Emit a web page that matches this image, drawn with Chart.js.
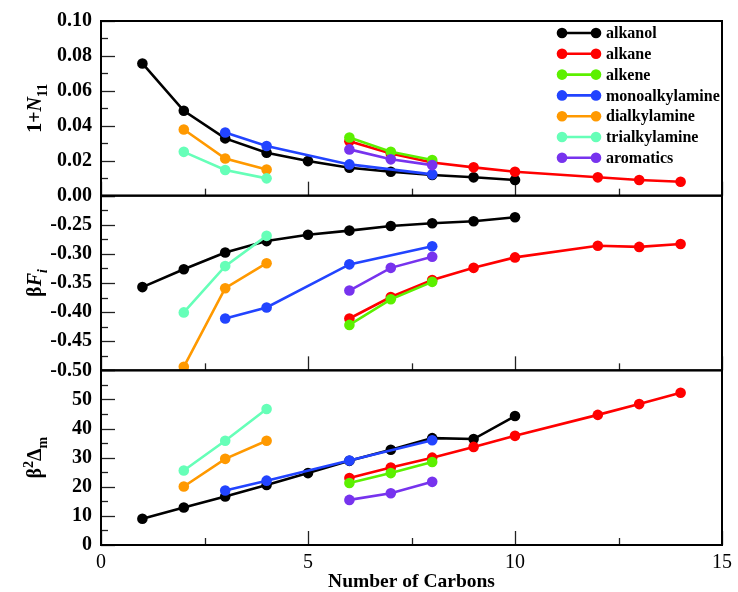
<!DOCTYPE html>
<html>
<head>
<meta charset="utf-8">
<script src="https://cdn.jsdelivr.net/npm/chart.js@4.4.1/dist/chart.umd.min.js"></script>
<style>
  html, body { margin: 0; padding: 0; background: #fff; }
  #wrap { width: 738px; height: 592px; }
</style>
</head>
<body>
<div id="wrap"><canvas id="chart" width="738" height="592"></canvas></div>
<script>
// Données (nombre de carbones -> 1+N11, βF_i, β²Δm)
const seriesNames = ['alkanol', 'alkane', 'alkene', 'monoalkylamine', 'dialkylamine', 'trialkylamine', 'aromatics'];

const alkanolCarbons = [1, 2, 3, 4, 5, 6, 7, 8, 9, 10];
const alkanolN11 = [0.0757, 0.0486, 0.0328, 0.0246, 0.0198, 0.0160, 0.0137, 0.0118, 0.0105, 0.0090];
const alkanolBetaF = [-0.357, -0.3265, -0.2975, -0.278, -0.267, -0.260, -0.252, -0.2475, -0.244, -0.237];
const alkanolDelta = [9.0, 12.9, 16.7, 20.6, 24.7, 28.9, 32.7, 36.7, 36.4, 44.3];

const alkaneCarbons = [6, 7, 8, 9, 10, 12, 13, 14];
const alkaneN11 = [0.0312, 0.0242, 0.0190, 0.0162, 0.0137, 0.0105, 0.0090, 0.0080];
const alkaneBetaF = [-0.411, -0.374, -0.345, -0.324, -0.306, -0.286, -0.288, -0.283];
const alkaneDelta = [23.0, 26.6, 30.0, 33.7, 37.5, 44.7, 48.4, 52.3];

const alkeneCarbons = [6, 7, 8];
const alkeneN11 = [0.0333, 0.0251, 0.0204];
const alkeneBetaF = [-0.422, -0.378, -0.348];
const alkeneDelta = [21.3, 24.7, 28.5];

const monoCarbons = [3, 4, 6, 8];
const monoN11 = [0.0362, 0.0284, 0.0179, 0.0122];
const monoBetaF = [-0.411, -0.392, -0.318, -0.287];
const monoDelta = [18.7, 22.1, 29.0, 36.0];

const diCarbons = [2, 3, 4];
const diN11 = [0.0379, 0.0213, 0.0150];
const diBetaF = [-0.494, -0.359, -0.316];
const diDelta = [20.1, 29.6, 35.8];

const triCarbons = [2, 3, 4];
const triN11 = [0.0251, 0.0147, 0.0099];
const triBetaF = [-0.4005, -0.321, -0.269];
const triDelta = [25.6, 35.8, 46.7];

const aroCarbons = [6, 7, 8];
const aroN11 = [0.0265, 0.0208, 0.0175];
const aroBetaF = [-0.363, -0.324, -0.305];
const aroDelta = [15.5, 17.8, 21.7];

const seriesColors = ['#000000', '#ff0000', '#5cf000', '#2244ff', '#ff9900', '#66ffb8', '#7733ee'];

const allCarbons = [alkanolCarbons, alkaneCarbons, alkeneCarbons, monoCarbons, diCarbons, triCarbons, aroCarbons];
const allN11 = [alkanolN11, alkaneN11, alkeneN11, monoN11, diN11, triN11, aroN11];
const allBetaF = [alkanolBetaF, alkaneBetaF, alkeneBetaF, monoBetaF, diBetaF, triBetaF, aroBetaF];
const allDelta = [alkanolDelta, alkaneDelta, alkeneDelta, monoDelta, diDelta, triDelta, aroDelta];

const SERIF = '"Liberation Serif", "DejaVu Serif", serif';

// Panneaux (du haut vers le bas)
const panels = [
    { id: 'yN', values: allN11, min: 0, max: 0.10, major: 0.02, minor: 0.01, hide: [] },
    { id: 'yF', values: allBetaF, min: -0.5, max: -0.2, major: 0.05, minor: 0.025, hide: [-0.2] },
    { id: 'yD', values: allDelta, min: 0, max: 60, major: 10, minor: 5, hide: [60] }
];

// Construit les datasets pour chaque panneau
const datasets = [];
panels.forEach((p, pi) => {
    seriesNames.forEach((name, i) => {
        datasets.push({
            label: name,
            data: allCarbons[i].map((c, k) => ({ x: c, y: p.values[i][k] })),
            yAxisID: p.id,
            borderColor: seriesColors[i],
            backgroundColor: seriesColors[i],
            pointBackgroundColor: seriesColors[i],
            pointBorderWidth: 0,
            pointRadius: 5.3,
            borderWidth: 2.6,
            tension: 0,
            order: 20 - i
        });
    });
});

function yScale(p, decimals) {
    return {
        type: 'linear',
        position: 'left',
        stack: 'panels',
        stackWeight: 1,
        min: p.min,
        max: p.max,
        grid: { display: false, drawTicks: false },
        border: { display: false },
        ticks: {
            stepSize: p.major,
            autoSkip: false,
            padding: 9,
            color: '#000',
            font: { family: SERIF, size: 20, weight: 'bold' },
            callback: v => p.hide.some(h => Math.abs(h - v) < 1e-9) ? '' : v.toFixed(decimals)
        },
        afterFit: s => { s.width = 101; }
    };
}

// Cadres, graduations internes, légende et titres des axes
const decorations = {
    id: 'decorations',
    beforeDatasetsDraw(chart) {
        const ctx = chart.ctx, area = chart.chartArea, xs = chart.scales.x;
        ctx.save();
        ctx.strokeStyle = '#222';
        ctx.lineWidth = 1.3;
        panels.forEach(p => {
            const ys = chart.scales[p.id];
            const n = Math.round((p.max - p.min) / p.minor);
            for (let k = 0; k <= n; k++) {
                const v = p.min + k * p.minor;
                const yy = Math.round(ys.getPixelForValue(v)) + 0.5;
                const len = (k % 2 === 0) ? 14 : 7;
                ctx.beginPath();
                ctx.moveTo(area.left, yy);
                ctx.lineTo(area.left + len, yy);
                ctx.stroke();
            }
            for (let k = 0; k <= 6; k++) {
                const xx = Math.round(xs.getPixelForValue(k * 2.5)) + 0.5;
                const len = (k % 2 === 0) ? 14 : 7;
                ctx.beginPath();
                ctx.moveTo(xx, ys.bottom);
                ctx.lineTo(xx, ys.bottom - len);
                ctx.stroke();
            }
        });
        ctx.restore();
    },
    afterDatasetsDraw(chart) {
        const ctx = chart.ctx, area = chart.chartArea;
        ctx.save();
        ctx.strokeStyle = '#000';
        ctx.lineWidth = 2;
        panels.forEach(p => {
            const ys = chart.scales[p.id];
            ctx.strokeRect(area.left, ys.top, area.right - area.left, ys.bottom - ys.top);
        });

        // Légende
        ctx.textBaseline = 'middle';
        ctx.textAlign = 'left';
        ctx.font = 'bold 16px ' + SERIF;
        seriesNames.forEach((name, i) => {
            const y = 33 + i * 20.8;
            ctx.strokeStyle = seriesColors[i];
            ctx.fillStyle = seriesColors[i];
            ctx.lineWidth = 2.6;
            ctx.beginPath();
            ctx.moveTo(562, y);
            ctx.lineTo(596, y);
            ctx.stroke();
            [562, 596].forEach(x => {
                ctx.beginPath();
                ctx.arc(x, y, 5.3, 0, Math.PI * 2);
                ctx.fill();
            });
            ctx.fillStyle = '#000';
            ctx.fillText(name, 606, y + 1);
        });

        // Titres des axes y avec indices / exposants
        const big = 'bold 20px ' + SERIF;
        const bigIt = 'italic bold 20px ' + SERIF;
        const small = 'bold 14px ' + SERIF;
        const smallIt = 'italic bold 14px ' + SERIF;
        const titles = [
            [['1+', big, 0], ['N', bigIt, 0], ['11', small, 6]],
            [['β', big, 0], ['F', bigIt, 0], ['i', smallIt, 6]],
            [['β', big, 0], ['2', small, -8], ['Δ', big, 0], ['m', small, 6]]
        ];
        panels.forEach((p, pi) => {
            const ys = chart.scales[p.id];
            const parts = titles[pi];
            let total = 0;
            parts.forEach(pt => { ctx.font = pt[1]; total += ctx.measureText(pt[0]).width; });
            ctx.save();
            ctx.translate(34, (ys.top + ys.bottom) / 2);
            ctx.rotate(-Math.PI / 2);
            ctx.fillStyle = '#000';
            ctx.textBaseline = 'alphabetic';
            let x = -total / 2;
            parts.forEach(pt => {
                ctx.font = pt[1];
                ctx.fillText(pt[0], x, 7 + pt[2]);
                x += ctx.measureText(pt[0]).width;
            });
            ctx.restore();
        });
        ctx.restore();
    }
};

const scales = {
    x: {
        type: 'linear',
        position: 'bottom',
        min: 0,
        max: 15,
        grid: { display: false, drawTicks: false },
        border: { display: false },
        ticks: {
            stepSize: 5,
            padding: 6,
            color: '#000',
            font: { family: SERIF, size: 20 }
        },
        title: {
            display: true,
            text: 'Number of Carbons',
            color: '#000',
            font: { family: SERIF, size: 19.5, weight: 'bold', lineHeight: 1 },
            padding: { top: 0, bottom: 0 }
        },
        afterFit: s => { s.height = 47; }
    }
};
// ordre inversé : le premier axe de la pile est placé en bas
[...panels].reverse().forEach(p => {
    scales[p.id] = yScale(p, p.id === 'yD' ? 0 : 2);
});

new Chart(document.getElementById('chart').getContext('2d'), {
    type: 'line',
    data: { datasets: datasets },
    options: {
        responsive: false,
        animation: false,
        layout: { padding: { top: 20, right: 14, left: 0, bottom: 0 } },
        plugins: { legend: { display: false }, tooltip: { enabled: false } },
        scales: scales
    },
    plugins: [decorations]
});
</script>
</body>
</html>
